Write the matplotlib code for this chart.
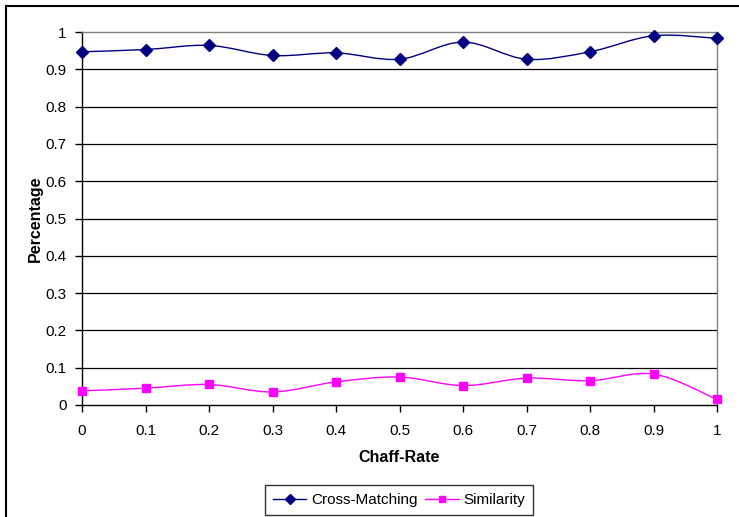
import numpy as np
import matplotlib.pyplot as plt
from matplotlib.path import Path
from matplotlib.patches import PathPatch
from matplotlib.lines import Line2D

plt.rcParams['font.family'] = ['Liberation Sans', 'DejaVu Sans']

chaff_rate = [0, 0.1, 0.2, 0.3, 0.4, 0.5, 0.6, 0.7, 0.8, 0.9, 1.0]
cross_matching = [0.947, 0.953, 0.964, 0.937, 0.944, 0.927, 0.973, 0.927, 0.947, 0.990, 0.983]
similarity = [0.038, 0.045, 0.055, 0.035, 0.062, 0.075, 0.052, 0.072, 0.065, 0.083, 0.015]
yticks = [0, 0.1, 0.2, 0.3, 0.4, 0.5, 0.6, 0.7, 0.8, 0.9, 1]
xticks = [0, 0.1, 0.2, 0.3, 0.4, 0.5, 0.6, 0.7, 0.8, 0.9, 1]


def smooth_path(x, y):
    # Catmull-Rom style cubic bezier through every point
    x = np.asarray(x, float)
    y = np.asarray(y, float)
    n = len(x)
    verts = [(x[0], y[0])]
    codes = [Path.MOVETO]
    for i in range(n - 1):
        p0 = i - 1 if i > 0 else i
        p3 = i + 2 if i + 2 < n else i + 1
        c1 = (x[i] + (x[i + 1] - x[p0]) / 6, y[i] + (y[i + 1] - y[p0]) / 6)
        c2 = (x[i + 1] - (x[p3] - x[i]) / 6, y[i + 1] - (y[p3] - y[i]) / 6)
        verts += [c1, c2, (x[i + 1], y[i + 1])]
        codes += [Path.CURVE4] * 3
    return Path(verts, codes)


fig = plt.figure(figsize=(7.39, 5.17), dpi=100)
ax = fig.add_axes([82 / 739, 1 - 405 / 517, 635 / 739, 373 / 517])

for yv in yticks[1:-1]:
    ax.axhline(yv, color='black', lw=0.9, zorder=1)

ax.add_patch(PathPatch(smooth_path(chaff_rate, cross_matching), fill=False,
                       edgecolor='#000080', lw=1.0, zorder=3))
ax.add_patch(PathPatch(smooth_path(chaff_rate, similarity), fill=False,
                       edgecolor='#FF00FF', lw=1.0, zorder=3))
ax.plot(chaff_rate, cross_matching, ls='none', marker='D', ms=6,
        color='#000080', zorder=4, clip_on=False)
ax.plot(chaff_rate, similarity, ls='none', marker='s', ms=6,
        color='#FF00FF', zorder=4, clip_on=False)

ax.set_xlim(0, 1)
ax.set_ylim(0, 1)
ax.set_xticks(xticks)
ax.set_xticklabels([f'{v:g}' for v in xticks])
ax.set_yticks(yticks)
ax.set_yticklabels([f'{v:g}' for v in yticks])
ax.tick_params(direction='out', length=5, width=1, color='black',
               labelsize=11)
ax.tick_params(axis='x', pad=9)
ax.tick_params(axis='y', pad=6)

for side in ('left', 'bottom'):
    ax.spines[side].set_color('black')
    ax.spines[side].set_linewidth(1.0)
for side in ('top', 'right'):
    ax.spines[side].set_color('#808080')
    ax.spines[side].set_linewidth(1.0)

ax.set_xlabel('Chaff-Rate', fontsize=11.5, fontweight='bold', labelpad=8)
ax.set_ylabel('Percentage', fontsize=11.5, fontweight='bold', labelpad=2)

handles = [
    Line2D([], [], color='#000080', marker='D', ms=5, lw=1.0),
    Line2D([], [], color='#FF00FF', marker='s', ms=5, lw=1.0),
]
leg = fig.legend(handles, ['Cross-Matching', 'Similarity'], loc='center',
                 bbox_to_anchor=(399 / 739, 1 - 500 / 517), ncol=2,
                 fontsize=11, frameon=True, fancybox=False,
                 handlelength=2.2, handletextpad=0.3, columnspacing=0.5,
                 borderpad=0.5, borderaxespad=0)
leg.get_frame().set_edgecolor('black')
leg.get_frame().set_linewidth(1.0)

# outer chart border (left and top edges)
fig.add_artist(Line2D([6 / 739, 6 / 739], [0, 1 - 6 / 517], color='black',
                      lw=1.5, transform=fig.transFigure))
fig.add_artist(Line2D([6 / 739, 1], [1 - 6 / 517, 1 - 6 / 517], color='black',
                      lw=1.5, transform=fig.transFigure))

fig.savefig('out.png', dpi=100)
